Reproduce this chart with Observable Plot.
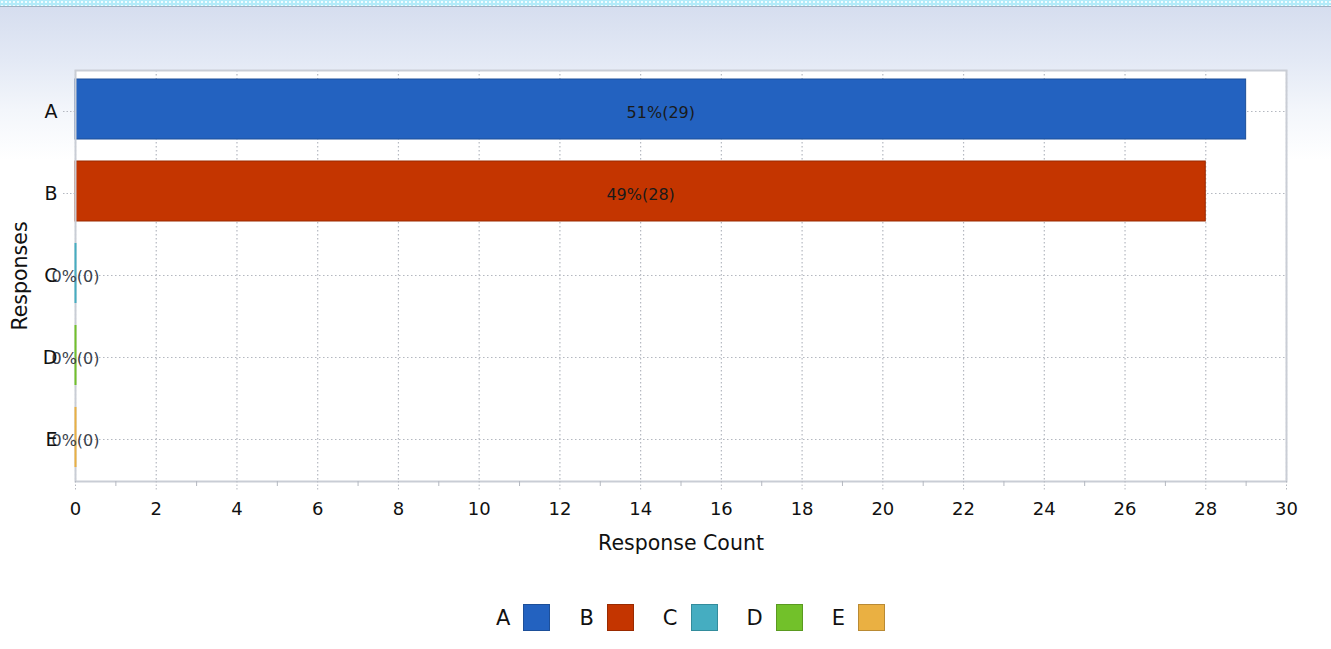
<!DOCTYPE html>
<html>
<head>
<meta charset="utf-8">
<script src="https://cdn.jsdelivr.net/npm/d3@7"></script>
<script src="https://cdn.jsdelivr.net/npm/@observablehq/plot@0.6"></script>
<style>
  html, body { margin: 0; padding: 0; }
  body { width: 1331px; height: 649px; overflow: hidden; font-family: "DejaVu Sans", sans-serif;
    background: linear-gradient(to bottom, #d4dcee 0px, #e3e9f5 60px, #f3f6fb 110px, #ffffff 160px, #ffffff 100%); }
  #wrap { position: relative; width: 1331px; height: 649px; }
  #strip { position: absolute; left: 0; top: 0; width: 1331px; height: 6px;
    background-color: #b3ebf9;
    background-image: radial-gradient(#f0fcff 35%, transparent 40%);
    background-size: 4px 4px; border-bottom: 1px solid #9fb0c0; }
  #chart svg { display: block; }
  #legend { display: flex; justify-content: center; align-items: center; margin-top: 29px; margin-left: 50px;
    font-size: 21px; color: #111; }
  .item { display: flex; align-items: center; margin: 0 14.5px; }
  .sw { width: 25px; height: 25px; margin-left: 13px; border: 1px solid; }
</style>
</head>
<body>
<div id="wrap">
  <div id="chart"></div>
  <div id="strip"></div>
  <div id="legend"></div>
</div>
<script>
const categories = ["A", "B", "C", "D", "E"];
const counts = [29, 28, 0, 0, 0];
const percents = [51, 49, 0, 0, 0];
const fillColors = ["#2362c0", "#c43500", "#45adc1", "#72c12a", "#eab042"];
const edgeColors = ["#1d4f99", "#9a2a00", "#338c9c", "#5a9a20", "#b98a34"];
const majorTicks = [0, 2, 4, 6, 8, 10, 12, 14, 16, 18, 20, 22, 24, 26, 28, 30];
const minorTicks = [1, 3, 5, 7, 9, 11, 13, 15, 17, 19, 21, 23, 25, 27, 29];

const data = categories.map((c, i) => ({cat: c, count: counts[i], pct: percents[i], fill: fillColors[i], edge: edgeColors[i]}));
const nonzero = data.filter(d => d.count > 0);
const zeros = data.filter(d => d.count === 0);

const gridStyle = {stroke: "#b4b8c0", strokeOpacity: 1, strokeDasharray: "1.5,2.5", strokeWidth: 1.2};

const plot = Plot.plot({
  width: 1331,
  height: 575,
  marginLeft: 75,
  marginRight: 45,
  marginTop: 70,
  marginBottom: 94,
  style: {background: "transparent", fontFamily: "DejaVu Sans, sans-serif", color: "#111", overflow: "visible"},
  x: {domain: [0, 30]},
  y: {domain: categories, paddingInner: 0.27, paddingOuter: 0.14, align: 0.4},
  marks: [
    Plot.frame({fill: "white", stroke: null}),
    Plot.gridX({ticks: majorTicks, ...gridStyle}),
    Plot.gridY({...gridStyle, dy: 2}),
    Plot.barX(nonzero, {x: "count", y: "cat", fill: "fill", stroke: "edge", strokeWidth: 1}),
    Plot.frame({stroke: "#c9cdd5", strokeWidth: 2}),
    Plot.tickX(zeros, {x: 0, y: "cat", stroke: "fill", strokeWidth: 2}),
    Plot.text(data, {x: d => d.count / 2, y: "cat", dy: 3, text: d => `${d.pct}%(${d.count})`, fontSize: 16, fill: d => d.count > 0 ? "#1a1a1a" : "#3a3f4a"}),
    Plot.axisX({ticks: majorTicks, tickSize: 9, tickFormat: () => "", label: null, stroke: "#b4b8c0", strokeDasharray: "1.5,2"}),
    Plot.axisX({ticks: minorTicks, tickSize: 5, tickFormat: () => "", label: null, stroke: "#b4b8c0"}),
    Plot.axisX({ticks: majorTicks, tickSize: 0, tickPadding: 21, fontSize: 18, label: null}),
    Plot.axisX({ticks: [], tickSize: 0, fontSize: 20.5, label: "Response Count", labelAnchor: "center", labelArrow: "none", labelOffset: 68}),
    Plot.axisY({tickSize: 12, tickPadding: 6, fontSize: 19, dy: 2, stroke: "#b4b8c0", strokeDasharray: "1.5,2", label: null}),
    Plot.axisY({ticks: [], tickSize: 0, fontSize: 20.5, label: "Responses", labelAnchor: "center", labelArrow: "none", labelOffset: 63})
  ]
});
document.getElementById("chart").appendChild(plot);

const legend = document.getElementById("legend");
categories.forEach((c, i) => {
  const item = document.createElement("div");
  item.className = "item";
  const t = document.createElement("span");
  t.textContent = c;
  const sw = document.createElement("span");
  sw.className = "sw";
  sw.style.background = fillColors[i];
  sw.style.borderColor = edgeColors[i];
  item.appendChild(t);
  item.appendChild(sw);
  legend.appendChild(item);
});
</script>
</body>
</html>
